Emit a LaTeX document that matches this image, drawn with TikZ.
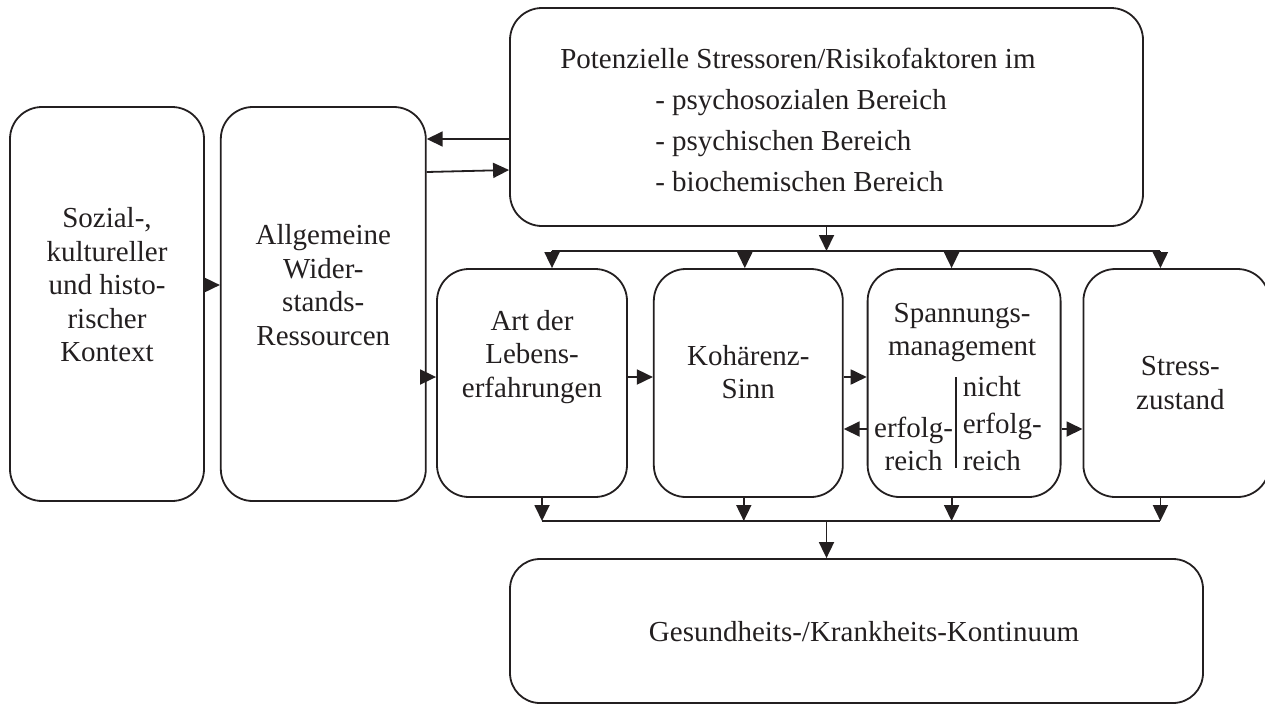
\documentclass[tikz,border=0pt]{standalone}
\usepackage{fontspec}
\setmainfont{Liberation Serif}
\usetikzlibrary{positioning,arrows.meta}
\definecolor{ink}{RGB}{35,31,32}

\begin{document}
\begin{tikzpicture}[
x=1pt, y=-1pt,
roundbox/.style={draw=ink, rounded corners=32pt, line width=1.8pt, inner sep=0pt},
boxtext/.style={align=center, inner sep=0pt, text=ink, font=\fontsize{29}{33.5}\selectfont},
arr/.style={-{Triangle[length=16pt,width=15pt]}, draw=ink, fill=ink, line width=1.8pt},
]
\useasboundingbox (0,0) rectangle (1265,705);

%Boxes
\node[roundbox, minimum width=194pt, minimum height=394pt] (kontext)    at (107,304) {};
\node[roundbox, minimum width=205pt, minimum height=394pt] (ressourcen) [right=15pt of kontext] {};
\node[roundbox, minimum width=633pt, minimum height=218pt] (stressoren) at (826.5,117) {};
\node[roundbox, minimum width=190pt, minimum height=228pt] (erfahrung)  at (532,383) {};
\node[roundbox, minimum width=189pt, minimum height=228pt] (kohaerenz)  [right=25pt of erfahrung] {};
\node[roundbox, minimum width=193pt, minimum height=228pt] (spannung)   [right=23pt of kohaerenz] {};
\node[roundbox, minimum width=186pt, minimum height=228pt] (zustand)    [right=21pt of spannung] {};
\node[roundbox, minimum width=693pt, minimum height=144pt, rounded corners=30pt] (kontinuum) at (856.5,631) {};

%Texts
\node[boxtext] (kontexttext)    at ([yshift=19pt]kontext.center) {Sozial-,\\kultureller\\und histo-\\rischer\\Kontext};
\node[boxtext] (ressourcentext) at ([yshift=19pt]ressourcen.center) {Allgemeine\\Wider-\\stands-\\Ressourcen};
\node[boxtext, align=left, anchor=west, font=\fontsize{29}{41}\selectfont] (stressorentext) at ([xshift=51pt,yshift=-3pt]stressoren.west)
  {Potenzielle Stressoren/Risikofaktoren im\\\hspace*{95pt}- psychosozialen Bereich\\\hspace*{95pt}- psychischen Bereich\\\hspace*{95pt}- biochemischen Bereich};
\node[boxtext] (erfahrungtext)  at ([yshift=26pt]erfahrung.center) {Art der\\Lebens-\\erfahrungen};
\node[boxtext] (kohaerenztext)  at ([yshift=11pt]kohaerenz.center) {Kohärenz-\\Sinn};
\node[boxtext] (spannungtext)   at ([xshift=-2pt,yshift=50.5pt]spannung.center) {Spannungs-\\management};
\node[boxtext] (erfolgtext)     at ([xshift=-50.5pt,yshift=-61pt]spannung.center) {erfolg-\\reich};
\node[boxtext, align=left, anchor=west, font=\fontsize{29}{37}\selectfont] (nichterfolgtext) at ([xshift=-1.5pt,yshift=-41pt]spannung.center) {nicht\\erfolg-\\reich};
\node[boxtext] (zustandtext)    at ([xshift=4pt]zustand.center) {Stress-\\zustand};
\node[boxtext] (kontinuumtext)  at ([xshift=7.5pt,yshift=-1pt]kontinuum.center) {Gesundheits-/Krankheits-Kontinuum};
\draw[draw=ink, line width=1.8pt] ([xshift=-7.8pt,yshift=6pt]spannung.center) -- ([xshift=-7.8pt,yshift=-85pt]spannung.center);

%Lines
\coordinate (upline)  at (0,251);
\coordinate (lowline) at (0,521);
\draw[arr] (stressoren.south) -- (stressoren.south |- upline);
\draw[draw=ink, line width=1.8pt] ([xshift=20pt]erfahrung.north |- upline) -- ([xshift=-16pt]zustand.north |- upline);
\foreach \n/\dx in {erfahrung/20, kohaerenz/-3.5, spannung/-12.5, zustand/-16}
  \draw[arr] ([xshift=\dx pt]\n.north |- upline) -- ([xshift=\dx pt]\n.north);
\foreach \n/\dx in {erfahrung/10, kohaerenz/-4.5, spannung/-12.5, zustand/-16}
  \draw[arr] ([xshift=\dx pt]\n.south) -- ([xshift=\dx pt]\n.south |- lowline);
\draw[draw=ink, line width=1.8pt] ([xshift=10pt]erfahrung.south |- lowline) -- ([xshift=-16pt]zustand.south |- lowline);
\draw[arr] (stressoren.south |- lowline) -- (stressoren.south |- kontinuum.north);

\draw[arr] ([yshift=-22pt]stressoren.west) -- ([yshift=-22pt]stressoren.west -| ressourcen.east);
\draw[arr] ([yshift=-55pt]stressoren.west -| ressourcen.east) -- ([yshift=-53pt]stressoren.west);
\draw[arr] ([yshift=19pt]kontext.east) -- ([yshift=19pt]kontext.east -| ressourcen.west);
\draw[arr] ([yshift=-73pt]ressourcen.east) -- ([yshift=-73pt]ressourcen.east -| erfahrung.west);
\draw[arr] ([yshift=6pt]erfahrung.east) -- ([yshift=6pt]erfahrung.east -| kohaerenz.west);
\draw[arr] ([yshift=6pt]kohaerenz.east) -- ([yshift=6pt]kohaerenz.east -| spannung.west);
\draw[arr] ([yshift=-46pt]spannung.west) -- ([yshift=-46pt]spannung.west -| kohaerenz.east);
\draw[arr] ([yshift=-46pt]spannung.east) -- ([yshift=-46pt]spannung.east -| zustand.west);
\end{tikzpicture}
\end{document}
